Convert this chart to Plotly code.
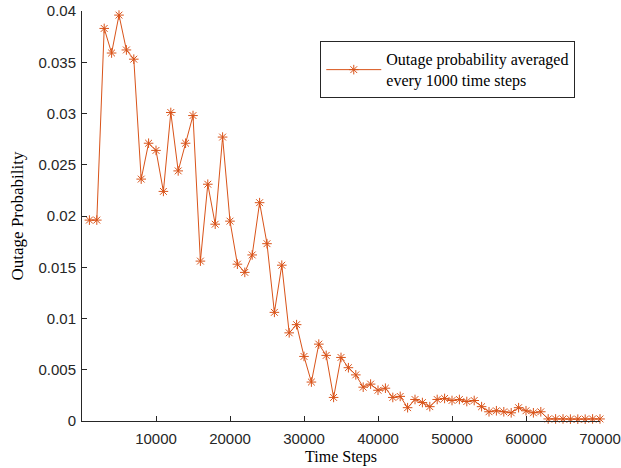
import plotly.graph_objects as go

time_steps = [1000 * k for k in range(1, 71)]
outage_prob = [
    0.0196, 0.0196, 0.0383, 0.0359, 0.0396, 0.0362, 0.0353, 0.0236, 0.0271, 0.0264,
    0.0224, 0.0301, 0.0244, 0.0271, 0.0298, 0.0156, 0.0231, 0.0192, 0.0277, 0.0195,
    0.0153, 0.0145, 0.0162, 0.0213, 0.0173, 0.0106, 0.0152, 0.0086, 0.0094, 0.0063,
    0.0038, 0.0075, 0.0064, 0.0023, 0.0062, 0.0052, 0.0045, 0.0033, 0.0036, 0.0030,
    0.0032, 0.0023, 0.0024, 0.0013, 0.0021, 0.0018, 0.0014, 0.0021, 0.0022, 0.0020,
    0.0021, 0.0019, 0.0020, 0.0014, 0.0009, 0.0010, 0.0009, 0.0008, 0.0013, 0.0010,
    0.0008, 0.0009, 0.0002, 0.0002, 0.0002, 0.00018, 0.00018, 0.00018, 0.0002, 0.0002,
]
series_name = "Outage probability averaged<br>every 1000 time steps"

x_tickvals = [10000, 20000, 30000, 40000, 50000, 60000, 70000]
x_ticktext = ["10000", "20000", "30000", "40000", "50000", "60000", "70000"]
y_tickvals = [0, 0.005, 0.01, 0.015, 0.02, 0.025, 0.03, 0.035, 0.04]
y_ticktext = ["0", "0.005", "0.01", "0.015", "0.02", "0.025", "0.03", "0.035", "0.04"]

color = "#D95319"
fig = go.Figure()
fig.add_trace(go.Scatter(
    x=time_steps, y=outage_prob, mode="lines+markers", name=series_name,
    line=dict(color=color, width=1),
    marker=dict(symbol="asterisk-open", size=8, color=color, line=dict(color=color, width=1)),
    cliponaxis=False,
))

axis_common = dict(
    showgrid=False, zeroline=False, showline=True, linecolor="#262626", linewidth=1,
    ticks="inside", ticklen=5, tickcolor="#262626", mirror=False, automargin=False,
    tickfont=dict(family="Liberation Sans, Arial", size=15, color="#262626"),
)
fig.update_xaxes(range=[0, 70000], tickvals=x_tickvals, ticktext=x_ticktext,
                 title=dict(text="Time Steps", font=dict(family="Liberation Serif, Times New Roman", size=16, color="#000"), standoff=4),
                 ticklabelstandoff=4, **axis_common)
fig.update_yaxes(range=[0, 0.04], tickvals=y_tickvals, ticktext=y_ticktext,
                 title=dict(text="Outage Probability", font=dict(family="Liberation Serif, Times New Roman", size=17, color="#000"), standoff=10),
                 ticklabelstandoff=2, **axis_common)

fig.update_layout(
    width=621, height=468,
    margin=dict(l=82, r=21, t=11, b=47),
    plot_bgcolor="white", paper_bgcolor="white",
    showlegend=True,
    legend=dict(
        x=0.46, y=0.926, xanchor="left", yanchor="top",
        bordercolor="#262626", borderwidth=1, bgcolor="white",
        font=dict(family="Liberation Serif, Times New Roman", size=16, color="#000"),
        itemwidth=55,
    ),
)
fig.write_html("out.html", config={"displayModeBar": False},
               post_script="document.body.style.margin='0';")
